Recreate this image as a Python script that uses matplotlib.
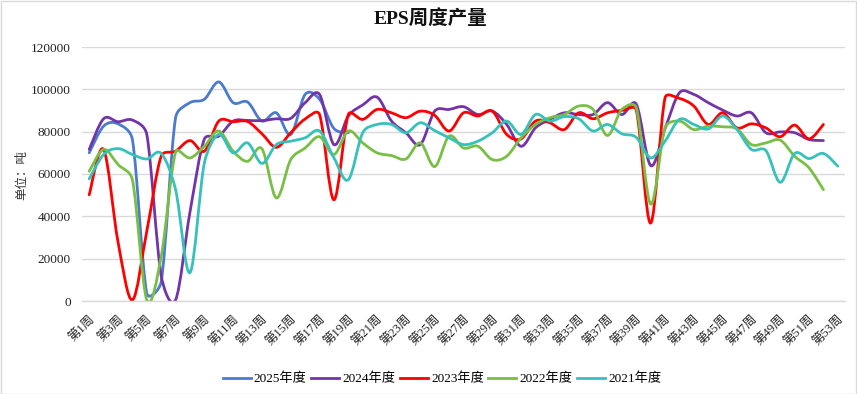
import numpy as np
import matplotlib
matplotlib.use('Agg')
import matplotlib.pyplot as plt
from matplotlib.path import Path
from matplotlib.patches import PathPatch, Rectangle
from matplotlib.lines import Line2D

weeks = [f'第{i}周' for i in range(1, 54)]

s2025 = [70000, 82600, 83700, 76300, 3600, 9000, 86600, 93700, 95300, 103500,
         93700, 94000, 85000, 88900, 78700, 97600, 95300, 81500, 79500]
s2024 = [71600, 86100, 84700, 85500, 78700, 12000, 500, 42000, 76500, 77900,
         85000, 85300, 85200, 86100, 86300, 93700, 97600, 73900, 87400, 92600,
         96300, 85000, 79500, 73900, 89700, 90500, 91800, 88100, 89700, 83400,
         73100, 81800, 85800, 88900, 88100, 88100, 93700, 88100, 93000, 64000,
         81500, 98400, 97600, 93700, 90200, 87400, 88900, 79500, 79900, 79500,
         76300, 75800]
s2023 = [50200, 71600, 28000, 500, 33000, 68400, 70800, 75800, 70800, 85000,
         84700, 84800, 79000, 72600, 79500, 86000, 88100, 47800, 88100, 85800,
         90500, 88900, 86600, 89700, 87700, 80300, 88900, 87400, 89700, 78700,
         76600, 85000, 84200, 81000, 88900, 86100, 88900, 90000, 90200, 36800,
         96000, 95700, 92100, 83400, 88900, 81800, 83700, 81800, 77600, 83100,
         76600, 83400]
s2022 = [61300, 71600, 64500, 57300, 500, 21000, 70300, 67600, 73100, 80300,
         70800, 66000, 71900, 48700, 66800, 72300, 77600, 69200, 80300, 74700,
         70000, 68700, 67100, 74700, 63500, 77900, 72300, 73100, 66800, 68400,
         77100, 83400, 86600, 88100, 92100, 90500, 78200, 90500, 91300, 45800,
         81800, 85000, 81000, 82600, 82300, 81300, 73900, 74700, 76000, 68400,
         62900, 52600]
s2021 = [57700, 69200, 72000, 69200, 67100, 69700, 52600, 13400, 65200, 78700,
         70000, 74700, 65000, 73900, 75500, 77100, 80300, 67600, 57300, 79500,
         83400, 83400, 79500, 84200, 80500, 77100, 73900, 75500, 79500, 85000,
         78700, 88100, 85000, 87100, 86100, 80300, 83400, 79000, 77300, 67600,
         75500, 85800, 83400, 81300, 87400, 81000, 71600, 71100, 56100, 69700,
         67300, 69700, 63700]

series = [('2025年度', s2025, '#4A7BD0'),
          ('2024年度', s2024, '#7334A8'),
          ('2023年度', s2023, '#FF0000'),
          ('2022年度', s2022, '#79BE45'),
          ('2021年度', s2021, '#36C2BA')]

FONT = ['Liberation Serif', 'Noto Sans CJK SC']

# approximate pixel scale (for shape-preserving smoothing only)
SX = 14.42
SY = 254.0 / 120000.0


def smooth_path(xs, ys):
    P = np.column_stack([np.asarray(xs, float) * SX, np.asarray(ys, float) * SY])
    n = len(P)
    verts = [P[0]]
    codes = [Path.MOVETO]
    for i in range(n - 1):
        p0 = P[i - 1] if i > 0 else P[i]
        p1 = P[i]
        p2 = P[i + 1]
        p3 = P[i + 2] if i + 2 < n else P[i + 1]
        seg = np.linalg.norm(p2 - p1)
        t1 = (p2 - p0) / 6.0
        t2 = (p3 - p1) / 6.0
        l1 = np.linalg.norm(t1)
        l2 = np.linalg.norm(t2)
        cap = 0.45 * seg
        if l1 > cap and l1 > 0:
            t1 = t1 * cap / l1
        if l2 > cap and l2 > 0:
            t2 = t2 * cap / l2
        verts += [p1 + t1, p2 - t2, p2]
        codes += [Path.CURVE4] * 3
    V = np.array(verts)
    V[:, 0] /= SX
    V[:, 1] /= SY
    return Path(V, codes)


fig = plt.figure(figsize=(8.57, 3.94), dpi=100)
ax = fig.add_axes([82 / 857, 1 - 301 / 394, (845 - 82) / 857, (301 - 47) / 394])

handles = []
for name, vals, col in series:
    x = np.arange(1, len(vals) + 1)
    patch = PathPatch(smooth_path(x, vals), fill=False, edgecolor=col,
                      lw=2.0, capstyle='round', joinstyle='round')
    ax.add_patch(patch)
    handles.append(Line2D([], [], color=col, lw=2.0, label=name))

ax.set_xlim(0.5, 53.5)
ax.set_ylim(0, 120000)
ax.set_yticks(np.arange(0, 120001, 20000))
ax.set_yticklabels([f'{v}' for v in range(0, 120001, 20000)], fontfamily=FONT,
                   fontsize=9.5, color='#222222')
odd = list(range(1, 54, 2))
ax.set_xticks(odd)
ax.set_xticklabels([weeks[i - 1] for i in odd], rotation=45, ha='right',
                   rotation_mode='anchor', fontfamily=FONT, fontsize=9,
                   color='#222222')
ax.tick_params(axis='both', length=0)
ax.tick_params(axis='y', pad=8)
ax.tick_params(axis='x', pad=9)
ax.grid(axis='y', color='#D9D9D9', lw=1.0)
ax.set_axisbelow(True)
for s in ['top', 'right', 'left']:
    ax.spines[s].set_visible(False)
ax.spines['bottom'].set_color('#D9D9D9')
ax.spines['bottom'].set_linewidth(1.0)

fig.text(0.502, 1 - 18 / 394, 'EPS周度产量', ha='center', va='center',
         fontfamily=FONT, fontsize=14, fontweight='bold', color='#111111')
fig.text(22 / 857, 1 - 175 / 394, '单位：吨', rotation=90, ha='center',
         va='center', fontfamily=FONT, fontsize=9, color='#333333')

leg = fig.legend(handles=handles, loc='center', ncol=5,
                 bbox_to_anchor=(442 / 857, 1 - 379 / 394), frameon=False,
                 prop={'family': FONT, 'size': 9.5}, handlelength=2.1,
                 handletextpad=0.25, columnspacing=0.35)

fig.add_artist(Rectangle((0.001, 0.001), 0.998, 0.997, transform=fig.transFigure,
                         fill=False, edgecolor='#D9D9D9', lw=1.0))

fig.savefig('out.png', dpi=100)
